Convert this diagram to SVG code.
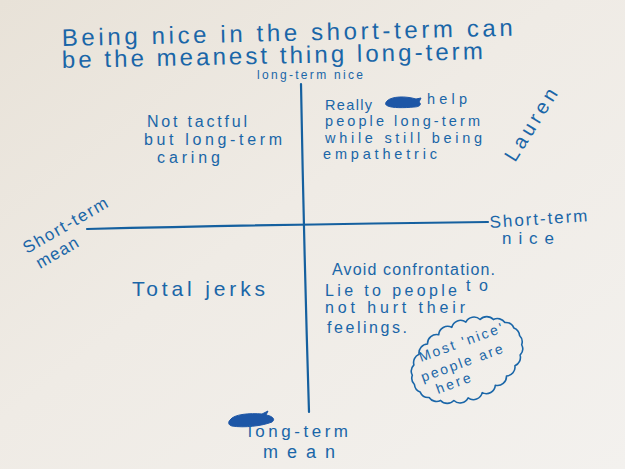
<svg xmlns="http://www.w3.org/2000/svg" width="625" height="469" viewBox="0 0 625 469">
<defs>
<linearGradient id="paper" x1="0" y1="0" x2="1" y2="1">
<stop offset="0" stop-color="#e8e2d8"/>
<stop offset="0.45" stop-color="#efebe5"/>
<stop offset="1" stop-color="#f3f1ee"/>
</linearGradient>
</defs>
<style>
text{font-family:"Liberation Sans","DejaVu Sans",sans-serif;fill:#1a66a8}
.t{font-size:24px}
.m{font-size:16px}
.a{font-size:17px}
.b{font-size:17px}
.bm{font-size:18px}
.q{font-size:14.5px}
.s{font-size:12px}
.c{font-size:14px}
.ink{fill:none;stroke:#15609f;stroke-width:2.2;stroke-linecap:round}
.cloud{fill:none;stroke:#1a66a8;stroke-width:1.6;stroke-linejoin:round}
.blob{fill:#1d56a6;stroke:#1d56a6;stroke-width:1}
</style>
<rect width="625" height="469" fill="url(#paper)"/>

<g id="title">
<text class="t" x="62" y="46" textLength="451" lengthAdjust="spacing" transform="rotate(-1.3 62 46)">Being nice in the short-term can</text>
<text class="t" x="62" y="68" textLength="421" lengthAdjust="spacing" transform="rotate(-1.2 62 68)">be the meanest thing long-term</text>
</g>

<g id="connectors">
<path class="ink" d="M301,84 Q304,250 309,412"/>
<path class="ink" d="M87,229 Q300,224 488,222"/>
</g>

<g id="axis-top">
<text class="s" x="257" y="79" textLength="106" lengthAdjust="spacing">long-term nice</text>
</g>
<g id="axis-left">
<text class="a" x="27" y="254" textLength="95" lengthAdjust="spacing" transform="rotate(-30 27 254)">Short-term</text>
<text class="a" x="40" y="269" textLength="46" lengthAdjust="spacing" transform="rotate(-30 40 269)">mean</text>
</g>
<g id="axis-right">
<text class="a" x="490" y="228" textLength="98" lengthAdjust="spacing" transform="rotate(-4 490 228)">Short-term</text>
<text class="a" x="502" y="244" textLength="52" lengthAdjust="spacing">nice</text>
</g>
<g id="axis-bottom">
<path class="blob" d="M230,420 C234,414 250,413 262,414 L268,411 L266,415 C272,416 276,419 272,422 C262,426 244,428 232,426 C228,425 228,422 230,420 Z"/>
<text class="b" x="248" y="437" textLength="100" lengthAdjust="spacing">long-term</text>
<text class="bm" x="263" y="458" textLength="72" lengthAdjust="spacing">mean</text>
</g>

<g id="q-top-left">
<text class="m" x="147" y="127" textLength="100" lengthAdjust="spacing">Not tactful</text>
<text class="m" x="144" y="145" textLength="138" lengthAdjust="spacing">but long-term</text>
<text class="m" x="157" y="163" textLength="63" lengthAdjust="spacing">caring</text>
</g>

<g id="q-top-right">
<text class="q" x="325" y="110" textLength="47" lengthAdjust="spacing">Really</text>
<path class="blob" d="M387,101 C392,96 406,96 416,99 L421,98 L419,102 C422,104 420,107 414,107 C404,108 392,108 388,106 C385,105 385,103 387,101 Z"/>
<text class="q" x="427" y="104" textLength="40" lengthAdjust="spacing">help</text>
<text class="q" x="325" y="126" textLength="155" lengthAdjust="spacing">people long-term</text>
<text class="q" x="325" y="143" textLength="157" lengthAdjust="spacing">while still being</text>
<text class="q" x="323" y="159" textLength="114" lengthAdjust="spacing">empathetric</text>
</g>

<g id="signature">
<text x="515" y="163" font-size="20" textLength="82" lengthAdjust="spacing" transform="rotate(-58 515 163)">Lauren</text>
</g>

<g id="q-bottom-left">
<text x="132" y="296" font-size="21" textLength="133" lengthAdjust="spacing">Total jerks</text>
</g>

<g id="q-bottom-right">
<text class="m" x="332" y="275" textLength="163" lengthAdjust="spacing">Avoid confrontation.</text>
<text class="m" x="325" y="296" textLength="132" lengthAdjust="spacing">Lie to people</text>
<text class="m" x="466" y="291" textLength="22" lengthAdjust="spacing">to</text>
<text class="m" x="325" y="313" textLength="140" lengthAdjust="spacing">not hurt their</text>
<text class="m" x="327" y="333" textLength="80" lengthAdjust="spacing">feelings.</text>
</g>

<g id="cloud-note">
<path class="cloud" transform="translate(467 360) rotate(-25)" d="M58,0 A9,9 0 0 1 56,9.3 A9,9 0 0 1 50.2,18 A9,9 0 0 1 41,25.5 A9,9 0 0 1 29,31.2 A9,9 0 0 1 15,34.8 A9,9 0 0 1 0,36 A9,9 0 0 1 -15,34.8 A9,9 0 0 1 -29,31.2 A9,9 0 0 1 -41,25.5 A9,9 0 0 1 -50.2,18 A9,9 0 0 1 -56,9.3 A9,9 0 0 1 -58,0 A9,9 0 0 1 -56,-9.3 A9,9 0 0 1 -50.2,-18 A9,9 0 0 1 -41,-25.5 A9,9 0 0 1 -29,-31.2 A9,9 0 0 1 -15,-34.8 A9,9 0 0 1 0,-36 A9,9 0 0 1 15,-34.8 A9,9 0 0 1 29,-31.2 A9,9 0 0 1 41,-25.5 A9,9 0 0 1 50.2,-18 A9,9 0 0 1 56,-9.3 A9,9 0 0 1 58,0 Z"/>
<text class="c" x="421" y="362" textLength="88" lengthAdjust="spacing" transform="rotate(-20 421 362)">Most 'nice'</text>
<text class="c" x="423" y="382" textLength="86" lengthAdjust="spacing" transform="rotate(-20 423 382)">people are</text>
<text class="c" x="438" y="394" textLength="36" lengthAdjust="spacing" transform="rotate(-20 438 394)">here</text>
</g>
</svg>
